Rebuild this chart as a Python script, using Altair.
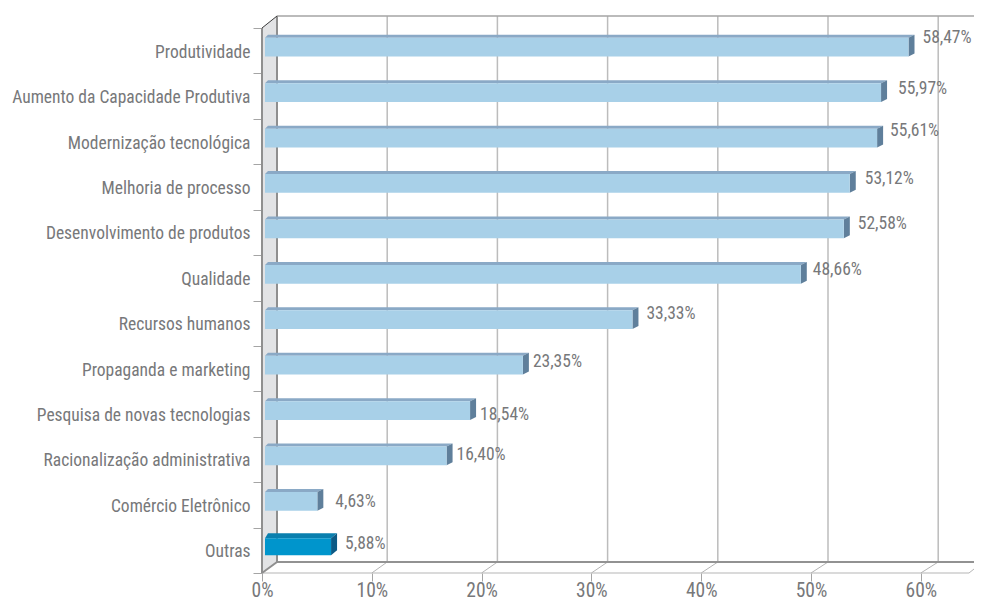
import altair as alt
import pandas as pd

categories = ["Produtividade", "Aumento da Capacidade Produtiva", "Modernização tecnológica",
              "Melhoria de processo", "Desenvolvimento de produtos", "Qualidade", "Recursos humanos",
              "Propaganda e marketing", "Pesquisa de novas tecnologias", "Racionalização administrativa",
              "Comércio Eletrônico", "Outras"]
values = [58.47, 55.97, 55.61, 53.12, 52.58, 48.66, 33.33, 23.35, 18.54, 16.40, 4.63, 5.88]
labels = ["58,47%", "55,97%", "55,61%", "53,12%", "52,58%", "48,66%", "33,33%", "23,35%",
          "18,54%", "16,40%", "4,63%", "5,88%"]
x_ticks = [0, 10, 20, 30, 40, 50, 60]

# hand-placed value label nudges seen in the picture (px)
label_gap = [8, 11, 7, 9, 8, 6, 8, 4, 4, 4, 12, 8]
label_dy = [-13, -7, -11, -8, -8, -8, -9, -7, 1, -4, -3, -6]

FONT = "Roboto Condensed, Roboto"
TXT = "#77787a"
PW, PH = 712, 545
PPU = 10.98
RH = PH / 12
W = PW / PPU
px = lambda p: p / PPU
py = lambda p: p / RH
x_s = alt.Scale(domain=[0, W], range=[0, PW], nice=False, zero=False)
y_s = alt.Scale(domain=[0, 12], range=[0, PH], nice=False, zero=False)
X = lambda f="x": alt.X(f"{f}:Q", scale=x_s, axis=None)
Y = lambda f="y": alt.Y(f"{f}:Q", scale=y_s, axis=None)

BACK = px(15)
TOP = py(-12)
FLOOR = 12 - py(11)
END = W

def lines(segs, color, width):
    rows = [{"g": i, "x": a, "y": b} for i, s in enumerate(segs) for a, b in s]
    return alt.Chart(pd.DataFrame(rows)).mark_line(color=color, strokeWidth=width, clip=False).encode(
        x=X(), y=Y(), detail="g:N")

wall = alt.Chart(pd.DataFrame([
    {"x": 0, "y": 0, "y2": 12}, {"x": BACK, "y": TOP, "y2": FLOOR}])).mark_area(
    color="#e2e3e5", orient="vertical").encode(x=X(), y=Y(), y2="y2:Q")

backx = lambda v: v * 11.02 / PPU + BACK
grid = lines([[(backx(v), TOP), (backx(v), FLOOR)] for v in x_ticks[1:]], "#bcbcbc", 1.5)
floor_diag = lines([[(v, 12), (backx(v), FLOOR)] for v in x_ticks[1:]] +
                   [[(W - px(5), 12), (W, 12 - py(4))]], "#b5b5b5", 1)
top_line = lines([[(BACK, TOP), (END, TOP)]], "#a5a5a5", 1.5)
front_floor = lines([[(0, 12), (W - px(5), 12)]], "#b5b5b5", 1.2)
back_floor = lines([[(BACK, FLOOR), (END, FLOOR)]], "#929292", 2)
left_edges = lines([[(0, 0), (0, 12)], [(BACK, TOP), (BACK, FLOOR)], [(0, 12), (BACK, FLOOR)]], "#8f8f8f", 2)
top_diag = lines([[(0, 0), (BACK, TOP)]], "#3a3a3a", 1)

front, top, side, text = [], [], [], []
for i, (c, v, l) in enumerate(zip(categories, values, labels)):
    last = i == len(categories) - 1
    yt = i + py(10.6 if last else 9.8)
    yb = yt + py(17 if last else 18.8)
    d = py(5 if last else 3)
    x0 = px(3)
    x1 = v + px(4.5)
    s = px(6)
    kind = "o" if last else "n"
    front.append({"k": kind, "x": x0, "x2": x1, "y": yt, "y2": yb})
    top += [{"g": i, "k": kind, "x": x0, "x2": x1, "y": yt},
            {"g": i, "k": kind, "x": x0 + px(3), "x2": x1 + s, "y": yt - d}]
    side += [{"g": i, "k": kind, "x": x1, "y": yt, "y2": yb},
             {"g": i, "k": kind, "x": x1 + s, "y": yt - d, "y2": yb - d}]
    text.append({"x": x1 + s + px(label_gap[i]), "y": i + 0.5 + py(label_dy[i]), "t": l})

def col(a, b):
    return alt.Color("k:N", scale=alt.Scale(domain=["n", "o"], range=[a, b]), legend=None)

top_c = alt.Chart(pd.DataFrame(top)).mark_area(orient="horizontal").encode(
    x=X(), x2="x2:Q", y=Y(), detail="g:N", color=col("#8aa9c6", "#0a7fae"))
side_c = alt.Chart(pd.DataFrame(side)).mark_area(orient="vertical").encode(
    x=X(), y=Y(), y2="y2:Q", detail="g:N", color=col("#5f7f9b", "#0c5a85"))
front_c = alt.Chart(pd.DataFrame(front)).mark_rect().encode(
    x=X(), x2="x2:Q", y=Y(), y2="y2:Q", color=col("#a8d0e8", "#0095cc"))
text_c = alt.Chart(pd.DataFrame(text)).mark_text(
    align="left", baseline="middle", font=FONT, fontSize=17.5, color=TXT).encode(x=X(), y=Y(), text="t:N")

axes = alt.Chart(pd.DataFrame({"c": categories, "v": values})).mark_point(opacity=0).encode(
    x=alt.X("v:Q", scale=x_s, axis=alt.Axis(
        values=x_ticks, labelExpr="datum.value + '%'", title=None, grid=False, domain=False,
        tickColor="#a5a5a5", tickSize=8, tickWidth=1, labelFont=FONT, labelFontSize=19.5,
        labelColor=TXT, labelPadding=0, labelFlush=False, labelOverlap=False)),
    y=alt.Y("c:N", sort=categories, scale=alt.Scale(type="band", domain=categories, range=[0, PH],
            paddingInner=0, paddingOuter=0),
            axis=alt.Axis(title=None, grid=False, domain=False, tickBand="extent", tickColor="#a5a5a5",
                          tickSize=9, tickWidth=1, labelFont=FONT, labelFontSize=17.5, labelColor=TXT,
                          labelPadding=3, labelLimit=260, labelOffset=1.5)))

chart = alt.layer(wall, grid, floor_diag, top_line, front_floor, back_floor, left_edges, top_diag,
                  top_c, side_c, front_c, text_c, axes).resolve_scale(y="independent", color="independent").resolve_axis(x="independent").properties(
    width=PW, height=PH,
    padding={"left": 254, "top": 20, "right": 0, "bottom": 28},
    autosize=alt.AutoSizeParams(type="none"),
).configure_view(stroke=None)

chart.save("out.html", embed_options={"renderer": "svg", "actions": False})
